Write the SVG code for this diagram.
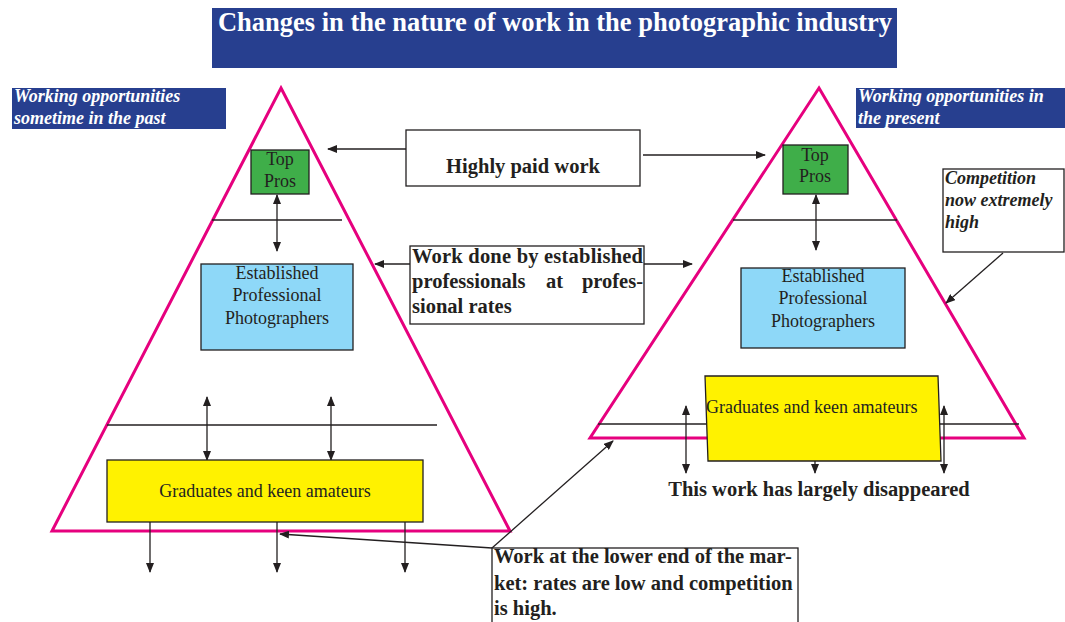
<svg xmlns="http://www.w3.org/2000/svg" width="1065" height="622" viewBox="0 0 1065 622">
<style>
.tri{fill:none;stroke:#e6007e;stroke-width:3;stroke-linejoin:miter}
.hl{stroke:#231f20;stroke-width:1.3;fill:none}
.ar{stroke:#231f20;stroke-width:1.3;fill:none}
.box{stroke:#231f20;stroke-width:1.3}
.wbox{fill:#fff;stroke:#231f20;stroke-width:1.3}
.lbl{fill:#273f8f}
.t{font-family:"Liberation Serif",serif;fill:#231f20}
.n{font-size:18px}
.b{font-size:20.5px;font-weight:bold}
.w{fill:#fff;font-style:italic;font-weight:bold;font-size:18px}
.ci{font-style:italic;font-weight:bold;font-size:18px}
</style>
<defs>
<marker id="ah" markerWidth="10" markerHeight="8" refX="9" refY="4" orient="auto-start-reverse" markerUnits="userSpaceOnUse">
<path d="M0,0 L10,4 L0,8 Z" fill="#231f20"/>
</marker>
</defs>

<g id="title">
<rect x="212" y="8" width="685" height="60" class="lbl"/>
<text x="555" y="31" text-anchor="middle" class="t" style="fill:#fff;font-size:27px;font-weight:bold" textLength="674" lengthAdjust="spacingAndGlyphs">Changes in the nature of work in the photographic industry</text>
</g>

<g id="label-past">
<rect x="12" y="88" width="214" height="41" class="lbl"/>
<text class="t w" x="14" y="102">Working opportunities</text>
<text class="t w" x="14" y="124">sometime in the past</text>
</g>

<g id="label-present">
<rect x="856" y="88" width="209" height="40" class="lbl"/>
<text class="t w" x="858" y="102">Working opportunities in</text>
<text class="t w" x="858" y="124">the present</text>
</g>

<g id="pyramid-past">
<polygon class="tri" points="281,88 510,531 52,531"/>
<line class="hl" x1="212" y1="220" x2="342" y2="220"/>
<line class="hl" x1="107" y1="425" x2="437" y2="425"/>
</g>

<g id="pyramid-present">
<polygon class="tri" points="819,88 1024,438 590,438"/>
<line class="hl" x1="733" y1="220" x2="897" y2="220"/>
<line class="hl" x1="598" y1="424" x2="1019" y2="424"/>
</g>

<g id="connectors">
<line class="ar" x1="277" y1="195" x2="277" y2="251" marker-start="url(#ah)" marker-end="url(#ah)"/>
<line class="ar" x1="207" y1="397" x2="207" y2="460" marker-start="url(#ah)" marker-end="url(#ah)"/>
<line class="ar" x1="331" y1="397" x2="331" y2="460" marker-start="url(#ah)" marker-end="url(#ah)"/>
<line class="ar" x1="150" y1="522" x2="150" y2="572" marker-end="url(#ah)"/>
<line class="ar" x1="277" y1="522" x2="277" y2="572" marker-end="url(#ah)"/>
<line class="ar" x1="405" y1="522" x2="405" y2="572" marker-end="url(#ah)"/>
<polyline class="ar" points="406,149 328,149" marker-end="url(#ah)"/>
<line class="ar" x1="643" y1="155" x2="765" y2="155" marker-end="url(#ah)"/>
<line class="ar" x1="410" y1="264" x2="375" y2="264" marker-end="url(#ah)"/>
<line class="ar" x1="644" y1="264" x2="692" y2="264" marker-end="url(#ah)"/>
<line class="ar" x1="816" y1="195" x2="816" y2="250" marker-start="url(#ah)" marker-end="url(#ah)"/>
<line class="ar" x1="686" y1="406" x2="686" y2="473" marker-start="url(#ah)" marker-end="url(#ah)"/>
<line class="ar" x1="944" y1="406" x2="944" y2="473" marker-start="url(#ah)" marker-end="url(#ah)"/>
<line class="ar" x1="815" y1="461" x2="815" y2="473" marker-end="url(#ah)"/>
<line class="ar" x1="1003" y1="253" x2="946" y2="303" marker-end="url(#ah)"/>
<line class="ar" x1="492" y1="548" x2="280" y2="534" marker-end="url(#ah)"/>
<line class="ar" x1="492" y1="548" x2="613" y2="441" marker-end="url(#ah)"/>
</g>

<g id="top-pros-past">
<rect x="251" y="150" width="58" height="44" class="box" fill="#3fae49"/>
<text class="t n" x="280" y="165" text-anchor="middle">Top</text>
<text class="t n" x="280" y="187" text-anchor="middle">Pros</text>
</g>

<g id="established-past">
<rect x="201" y="264" width="152" height="86" class="box" fill="#8ed8f8"/>
<text class="t n" x="277" y="279" text-anchor="middle">Established</text>
<text class="t n" x="277" y="301" text-anchor="middle">Professional</text>
<text class="t n" x="277" y="324" text-anchor="middle">Photographers</text>
</g>

<g id="graduates-past">
<rect x="107" y="460" width="316" height="62" class="box" fill="#fff200"/>
<text class="t n" x="265" y="497" text-anchor="middle">Graduates and keen amateurs</text>
</g>

<g id="top-pros-present">
<rect x="783" y="145" width="65" height="49" class="box" fill="#3fae49"/>
<text class="t n" x="815" y="161" text-anchor="middle">Top</text>
<text class="t n" x="815" y="182" text-anchor="middle">Pros</text>
</g>

<g id="established-present">
<rect x="741" y="268" width="164" height="80" class="box" fill="#8ed8f8"/>
<text class="t n" x="823" y="282" text-anchor="middle">Established</text>
<text class="t n" x="823" y="304" text-anchor="middle">Professional</text>
<text class="t n" x="823" y="327" text-anchor="middle">Photographers</text>
</g>

<g id="graduates-present">
<polygon points="705,376 938,376 941,461 708,461" class="box" fill="#fff200"/>
<text class="t n" x="706" y="413">Graduates and keen amateurs</text>
</g>

<g id="highly-paid">
<rect x="406" y="130" width="234" height="56" class="wbox"/>
<text class="t b" x="523" y="173" text-anchor="middle">Highly paid work</text>
</g>

<g id="established-work">
<rect x="410" y="246" width="234" height="78" class="wbox"/>
<text class="t b" x="412" y="263" textLength="231" lengthAdjust="spacing">Work done by established</text>
<text class="t b" y="288"><tspan x="412">professionals</tspan><tspan x="546">at</tspan><tspan x="643" text-anchor="end">profes-</tspan></text>
<text class="t b" x="412" y="313">sional rates</text>
</g>

<g id="competition">
<rect x="943" y="169" width="121" height="83" class="wbox"/>
<text class="t ci" x="945" y="184">Competition</text>
<text class="t ci" x="945" y="206">now extremely</text>
<text class="t ci" x="945" y="228">high</text>
</g>

<g id="disappeared">
<text class="t b" x="819" y="496" text-anchor="middle">This work has largely disappeared</text>
</g>

<g id="lower-end">
<rect x="492" y="548" width="306" height="80" class="wbox"/>
<text class="t b" x="494" y="563">Work at the lower end of the mar-</text>
<text class="t b" x="494" y="590">ket: rates are low and competition</text>
<text class="t b" x="494" y="615">is high.</text>
</g>
</svg>
